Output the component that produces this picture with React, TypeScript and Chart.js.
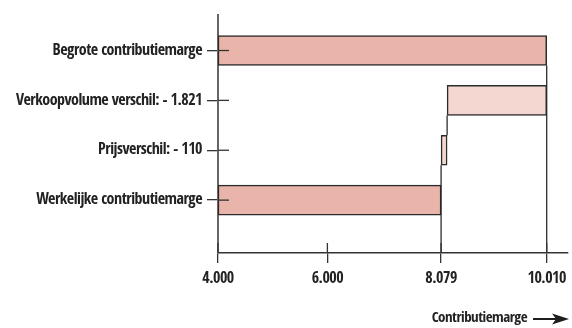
import React, { useEffect, useRef } from "react";
import { Chart, registerables } from "chart.js";

Chart.register(...registerables);

// ---- data ----
const categories = [
  "Begrote contributiemarge",
  "Verkoopvolume verschil: - 1.821",
  "Prijsverschil: - 110",
  "Werkelijke contributiemarge",
];
const barStarts = [4000, 8189, 8079, 4000];
const barEnds = [10010, 10010, 8189, 8079];
const barColors = ["#e9b4a9", "#f4d7d0", "#f4d7d0", "#e9b4a9"];
const xTickValues = [4000, 6000, 8079, 10010];
const xTickLabels = ["4.000", "6.000", "8.079", "10.010"];
const xMin = 4000;
const xMax = 10400;
const axisTitle = "Contributiemarge";
// connectors: value of the vertical line, bar it starts from, bar it ends at (-1 = x axis)
const connectorValues = [barEnds[0], barStarts[1], barStarts[2]];
const connectorFrom = [0, 1, 2];
const connectorTo = [-1, 2, -1];

const FONT = "'Open Sans Condensed', 'Roboto Condensed', 'DejaVu Sans', sans-serif";
const FONT_SIZE = 16;
const TITLE_SIZE = 15;
const TITLE_PAD_BOTTOM = 1;
const ARROW_ROOM = "\u2003\u2003\u2002\u2009\u2009";

const setSpacing = (chart: any) => {
  chart.ctx.letterSpacing = "-0.5px";
};

const waterfallPlugin = {
  id: "waterfallExtras",
  afterInit: setSpacing,
  beforeUpdate: setSpacing,
  beforeDraw: setSpacing,
  afterDatasetsDraw(chart: any) {
    const ctx = chart.ctx;
    const xs = chart.scales.x;
    const ys = chart.scales.y;
    const area = chart.chartArea;
    const meta = chart.getDatasetMeta(0);
    ctx.save();
    ctx.strokeStyle = "#2b2b2b";
    ctx.lineWidth = 1.3;
    connectorValues.forEach((v, i) => {
      const from = meta.data[connectorFrom[i]];
      const y1 = from.y + from.height / 2;
      const toIdx = connectorTo[i];
      const y2 = toIdx < 0 ? area.bottom : meta.data[toIdx].y - meta.data[toIdx].height / 2;
      const x = xs.getPixelForValue(v);
      ctx.beginPath();
      ctx.moveTo(x, y1);
      ctx.lineTo(x, y2);
      ctx.stroke();
    });
    // inner half of the crossing tick marks
    ctx.strokeStyle = "#333";
    ctx.lineWidth = 1.3;
    ys.ticks.forEach((_t: any, i: number) => {
      const y = ys.getPixelForTick(i);
      ctx.beginPath();
      ctx.moveTo(area.left, y);
      ctx.lineTo(area.left + 11, y);
      ctx.stroke();
    });
    xs.ticks.forEach((_t: any, i: number) => {
      const x = xs.getPixelForTick(i);
      ctx.beginPath();
      ctx.moveTo(x, area.bottom);
      ctx.lineTo(x, area.bottom - 10);
      ctx.stroke();
    });
    ctx.restore();
  },
  afterDraw(chart: any) {
    // arrow after the x-axis title
    const ctx = chart.ctx;
    const xs = chart.scales.x;
    const cy = xs.bottom - TITLE_PAD_BOTTOM - (TITLE_SIZE * 1.2) / 2 + 1;
    const right = xs.right + 1;
    ctx.save();
    ctx.strokeStyle = "#1e1e1e";
    ctx.fillStyle = "#1e1e1e";
    ctx.lineWidth = 2;
    ctx.beginPath();
    ctx.moveTo(right - 36, cy);
    ctx.lineTo(right - 12, cy);
    ctx.stroke();
    ctx.beginPath();
    ctx.moveTo(right - 17, cy - 5.5);
    ctx.lineTo(right, cy);
    ctx.lineTo(right - 17, cy + 5.5);
    ctx.lineTo(right - 13, cy);
    ctx.closePath();
    ctx.fill();
    ctx.restore();
  },
};

export default function App() {
  const ref = useRef<HTMLCanvasElement | null>(null);
  useEffect(() => {
    if (!ref.current) return;
    const chart = new Chart(ref.current, {
      type: "bar",
      data: {
        datasets: [
          {
            data: categories.map((_, i) => ({ y: i, x: [barStarts[i], barEnds[i]] })) as any,
            backgroundColor: barColors,
            borderColor: "#2b2b2b",
            borderWidth: 1.5,
            borderSkipped: false,
            barThickness: 30,
          },
        ],
      },
      options: {
        indexAxis: "y",
        animation: false,
        responsive: false,
        layout: { padding: { top: 14, right: 2, left: 0, bottom: 0 } },
        plugins: { legend: { display: false }, tooltip: { enabled: false } },
        scales: {
          x: {
            type: "linear",
            min: xMin,
            max: xMax,
            offset: false,
            afterBuildTicks: (s: any) => {
              s.ticks = xTickValues.map((v) => ({ value: v }));
            },
            ticks: {
              callback: (_v: any, i: number) => xTickLabels[i],
              font: { family: FONT, size: FONT_SIZE },
              color: "#222",
              padding: 6,
              maxRotation: 0,
              autoSkip: false,
            },
            grid: { drawOnChartArea: false, offset: false, tickLength: 10, color: "#333", lineWidth: 1.3 },
            border: { color: "#333", width: 1.5 },
            title: {
              display: true,
              text: axisTitle + ARROW_ROOM,
              align: "end",
              color: "#222",
              font: { family: FONT, size: TITLE_SIZE },
              padding: { top: 0, bottom: TITLE_PAD_BOTTOM },
            },
            afterFit: (s: any) => {
              s.height = 75;
            },
          },
          y: {
            type: "linear",
            reverse: true,
            offset: false,
            min: -0.72,
            max: 4.06,
            afterBuildTicks: (s: any) => {
              s.ticks = categories.map((_, i) => ({ value: i }));
            },
            ticks: {
              callback: (v: any) => categories[v],
              font: { family: FONT, size: FONT_SIZE },
              color: "#222",
              padding: 5,
              autoSkip: false,
            },
            grid: { drawOnChartArea: false, offset: false, tickLength: 11, color: "#333", lineWidth: 1.3 },
            border: { color: "#666", width: 2 },
            afterFit: (s: any) => {
              s.width = 218;
            },
          },
        },
      } as any,
      plugins: [waterfallPlugin],
    });
    return () => chart.destroy();
  }, []);
  return (
    <div style={{ position: "fixed", left: 0, top: 0, width: 572, height: 328, background: "#fff" }}>
      <canvas ref={ref} width={572} height={328} style={{ display: "block" }} />
    </div>
  );
}
